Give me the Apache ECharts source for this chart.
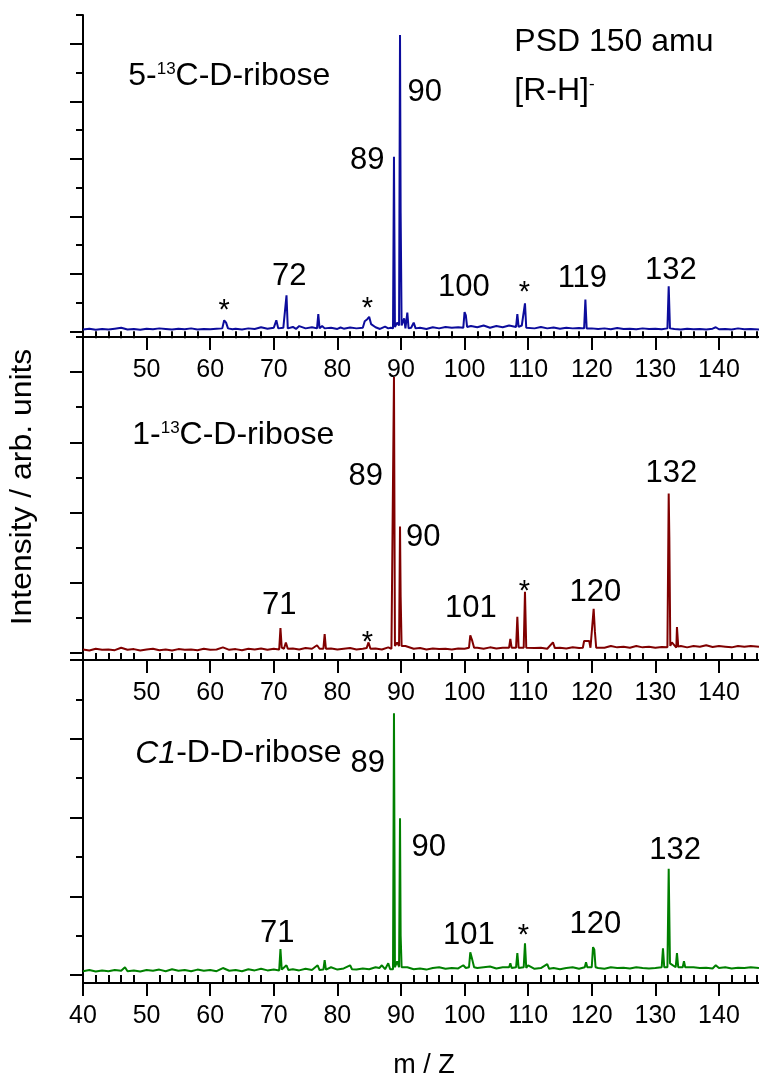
<!DOCTYPE html>
<html><head><meta charset="utf-8">
<script src="https://cdn.jsdelivr.net/npm/echarts@6/dist/echarts.min.js"></script>
<style>html,body{margin:0;padding:0;background:#fff}#c{width:759px;height:1078px}</style>
</head><body><div id="c"></div><script>
// ---------- DATA ----------
const xMajorTicks = [40,50,60,70,80,90,100,110,120,130,140];
const xMinorTicks = [42,44,46,48,52,54,56,58,62,64,66,68,72,74,76,78,82,84,86,88,92,94,96,98,102,104,106,108,112,114,116,118,122,124,126,128,132,134,136,138,142,144,146];
const xLabelsUpper = [50,60,70,80,90,100,110,120,130,140];
const xLabelsBottom = [40,50,60,70,80,90,100,110,120,130,140];

const yMajorTop = [0,2,4,6,8,10];
const yMinorTop = [1,3,5,7,9,11];
const yMajorMid = [0,2,4,6,8];
const yMinorMid = [1,3,5,7,9];
const yMajorBot = [0,2,4,6,8];
const yMinorBot = [1,3,5,7];

// 5-13C-D-ribose spectrum [m/z, intensity]
const spec5C13 = [[40,0.06],[41,0.09],[42,0.05],[43,0.08],[44,0.06],[45,0.09],[46,0.12],[47,0.06],[48,0.08],[49,0.05],[50,0.09],[51,0.07],[52,0.1],[53,0.08],[54,0.06],[55,0.09],[56,0.07],[57,0.1],[58,0.06],[59,0.08],[60,0.07],[61,0.09],[61.9,0.1],[62.2,0.38],[62.5,0.3],[62.8,0.1],[63.5,0.07],[64,0.09],[65,0.06],[66,0.1],[67,0.08],[68,0.14],[69,0.09],[70,0.12],[70.4,0.38],[70.7,0.1],[71.5,0.12],[71.8,0.1],[72,1.25],[72.2,0.1],[73,0.15],[73.5,0.08],[74,0.18],[75,0.1],[76,0.14],[76.8,0.1],[77,0.6],[77.2,0.1],[77.6,0.18],[78,0.1],[79,0.12],[80,0.08],[80.5,0.13],[81,0.09],[82,0.13],[83,0.1],[84,0.12],[84.3,0.35],[84.7,0.42],[85,0.5],[85.3,0.25],[86,0.14],[86.7,0.08],[87.5,0.16],[88,0.1],[88.4,0.12],[88.75,0.1],[88.9,6.07],[89.05,0.15],[89.4,0.3],[89.7,0.2],[89.85,10.3],[89.95,4.1],[90.1,0.2],[90.5,0.45],[90.7,0.1],[91,0.65],[91.2,0.1],[91.6,0.12],[92,0.3],[92.3,0.1],[93,0.12],[94,0.08],[95,0.14],[96,0.1],[97,0.15],[98,0.12],[99,0.14],[99.8,0.12],[100,0.67],[100.2,0.55],[100.4,0.15],[101,0.18],[102,0.14],[103,0.2],[104,0.12],[105,0.18],[106,0.14],[107,0.2],[108.1,0.15],[108.3,0.6],[108.5,0.15],[109,0.2],[109.3,0.15],[109.5,0.97],[109.7,0.12],[110,0.14],[111,0.1],[112,0.15],[113,0.1],[114,0.13],[115,0.09],[116,0.12],[117,0.1],[118,0.11],[118.8,0.1],[119,1.1],[119.2,0.1],[120,0.1],[121,0.08],[122,0.1],[123,0.07],[124,0.11],[125,0.08],[126,0.09],[127,0.07],[128,0.1],[129,0.08],[130,0.09],[131,0.07],[131.9,0.1],[132.1,1.56],[132.3,0.1],[133,0.08],[134,0.06],[135,0.09],[136,0.07],[137,0.08],[138,0.06],[139,0.09],[139.5,0.14],[140,0.07],[141,0.08],[142,0.06],[143,0.1],[144,0.07],[145,0.08],[146.3,0.06]];

// 1-13C-D-ribose spectrum
const spec1C13 = [[40,0.1],[41,0.07],[42,0.12],[43,0.09],[44,0.1],[45,0.08],[46,0.15],[47,0.09],[48,0.11],[49,0.07],[50,0.1],[51,0.12],[52,0.08],[53,0.1],[54,0.07],[55,0.11],[56,0.09],[57,0.1],[58,0.08],[59,0.12],[60,0.09],[61,0.1],[62,0.16],[63,0.09],[64,0.11],[65,0.08],[66,0.12],[67,0.1],[68,0.13],[69,0.09],[70,0.12],[70.85,0.1],[71.05,0.71],[71.25,0.15],[71.6,0.12],[71.9,0.3],[72.2,0.12],[73,0.13],[74,0.1],[75,0.14],[76,0.12],[76.8,0.22],[77.2,0.12],[77.8,0.12],[78,0.54],[78.2,0.12],[79,0.13],[80,0.1],[81,0.12],[82,0.14],[83,0.1],[84,0.12],[84.6,0.14],[84.9,0.3],[85.2,0.12],[86,0.13],[87,0.1],[88,0.16],[88.5,0.12],[88.75,0.1],[88.9,7.86],[89.05,0.2],[89.4,0.3],[89.7,0.2],[89.85,3.6],[89.95,1.6],[90.1,0.2],[90.7,0.2],[91,0.15],[92,0.12],[93,0.14],[94,0.1],[95,0.13],[96,0.11],[97,0.12],[98,0.1],[99,0.13],[100,0.12],[100.7,0.15],[100.9,0.5],[101.2,0.35],[101.5,0.15],[102,0.15],[103,0.12],[104,0.16],[105,0.13],[106,0.15],[107,0.15],[107.2,0.4],[107.4,0.15],[108.1,0.15],[108.3,1.03],[108.5,0.15],[109.3,0.15],[109.5,1.74],[109.7,0.15],[110,0.2],[111,0.14],[112,0.15],[113,0.12],[113.9,0.3],[114.2,0.14],[115,0.15],[116,0.13],[117,0.16],[118,0.14],[118.6,0.15],[118.8,0.34],[119.6,0.34],[119.8,0.15],[120.1,0.2],[120.3,1.26],[120.5,0.6],[120.7,0.15],[121,0.18],[122,0.15],[123,0.2],[124,0.16],[125,0.18],[126,0.15],[127,0.2],[128,0.16],[129,0.18],[130,0.15],[131,0.17],[131.9,0.16],[132.1,4.54],[132.2,3.3],[132.35,0.2],[132.6,0.3],[133.3,0.15],[133.4,0.74],[133.6,0.18],[134,0.2],[135,0.16],[136,0.2],[137,0.18],[138,0.22],[139,0.17],[140,0.2],[141,0.18],[142,0.16],[143,0.2],[144,0.18],[145,0.2],[146.3,0.18]];

// C1-D-D-ribose spectrum
const specC1D = [[40,0.1],[41,0.13],[42,0.09],[43,0.12],[44,0.1],[45,0.13],[46,0.11],[46.6,0.2],[47,0.1],[48,0.12],[49,0.09],[50,0.13],[51,0.11],[52,0.14],[53,0.1],[54,0.15],[55,0.11],[56,0.13],[57,0.1],[58,0.14],[59,0.11],[60,0.13],[61,0.1],[62,0.18],[63,0.11],[64,0.13],[65,0.1],[66,0.15],[67,0.12],[68,0.16],[69,0.12],[70,0.14],[70.85,0.12],[71.05,0.66],[71.25,0.14],[72,0.25],[72.3,0.13],[73,0.15],[74,0.12],[75,0.16],[76,0.13],[76.9,0.25],[77.2,0.13],[77.8,0.14],[78,0.38],[78.2,0.14],[79,0.2],[80,0.14],[81,0.17],[82,0.25],[82.3,0.15],[83,0.14],[84,0.17],[85,0.15],[86,0.2],[86.6,0.18],[87,0.25],[87.5,0.15],[88,0.3],[88.3,0.15],[88.75,0.15],[88.9,6.65],[89.05,0.2],[89.4,0.35],[89.7,0.2],[89.85,3.98],[89.95,1.0],[90.1,0.2],[91,0.2],[92,0.15],[93,0.17],[94,0.14],[95,0.18],[96,0.2],[97,0.16],[98,0.18],[99,0.17],[99.8,0.25],[100.2,0.18],[100.7,0.2],[100.9,0.58],[101.2,0.4],[101.5,0.2],[102,0.18],[103,0.2],[104,0.22],[105,0.17],[106,0.2],[107,0.2],[107.2,0.3],[107.4,0.18],[108.1,0.2],[108.3,0.56],[108.5,0.18],[109.3,0.2],[109.5,0.81],[109.7,0.18],[110,0.25],[111,0.16],[112,0.18],[113,0.28],[113.3,0.16],[114,0.18],[115,0.15],[116,0.18],[117,0.2],[118,0.16],[118.9,0.2],[119.1,0.33],[119.3,0.2],[120,0.2],[120.2,0.71],[120.4,0.65],[120.6,0.2],[121,0.18],[122,0.16],[123,0.2],[124,0.18],[125,0.19],[126,0.17],[127,0.2],[128,0.18],[129,0.17],[130,0.18],[131,0.2],[131.2,0.68],[131.4,0.2],[131.9,0.2],[132.1,2.7],[132.3,0.3],[132.6,0.25],[133.2,0.2],[133.4,0.56],[133.6,0.2],[134.3,0.2],[134.5,0.35],[134.7,0.2],[135,0.17],[136,0.2],[137,0.18],[138,0.19],[139,0.17],[139.5,0.25],[140,0.18],[141,0.2],[142,0.17],[143,0.19],[144,0.18],[145,0.2],[146.3,0.18]];

// Annotations: [m/z anchor, intensity anchor, text]
const titles5 = [[47.19, 8.84, '5-{sup|13}C-D-ribose'], [107.9, 10.03, 'PSD 150 amu'], [107.9, 8.32, '[R-H]{sup|-}']];
const peaks5 = [[93.83, 8.29, '90'], [84.79, 5.92, '89'], [72.52, 1.89, '72'], [62.29, 0.70, '*'], [84.79, 0.77, '*'], [99.97, 1.50, '100'], [109.5, 1.33, '*'], [118.6, 1.82, '119'], [132.53, 2.10, '132']];
const titles1 = [[47.82, 6.18, '1-{sup|13}C-D-ribose']];
const peaks1 = [[84.55, 5.01, '89'], [93.6, 3.28, '90'], [70.94, 1.34, '71'], [84.79, 0.26, '*'], [101.07, 1.25, '101'], [109.47, 1.71, '*'], [120.65, 1.71, '120'], [132.6, 5.10, '132']];
const titlesC1 = [[48.29, 5.61, '{it|C1}-D-D-ribose']];
const peaksC1 = [[84.86, 5.36, '89'], [94.46, 3.23, '90'], [70.63, 1.04, '71'], [100.75, 0.99, '101'], [109.33, 0.97, '*'], [120.65, 1.27, '120'], [133.19, 3.15, '132']];

// ---------- LAYOUT ----------
const FONT = '"Liberation Sans", Arial, sans-serif';
const panels = [
  {spec: spec5C13, titles: titles5, peaks: peaks5, color: '#0c0c9c', top: 15, height: 322, ymax: 11, yMaj: yMajorTop, yMin: yMinorTop, xLab: xLabelsUpper},
  {spec: spec1C13, titles: titles1, peaks: peaks1, color: '#800000', top: 337, height: 323, ymax: 9, yMaj: yMajorMid, yMin: yMinorMid, xLab: xLabelsUpper},
  {spec: specC1D, titles: titlesC1, peaks: peaksC1, color: '#008000', top: 660, height: 323, ymax: 8, yMaj: yMajorBot, yMin: yMinorBot, xLab: xLabelsBottom}
];

const grid = [], xAxis = [], yAxis = [], series = [];
const rich = {
  sup: {fontSize: 17, fontFamily: FONT, color: '#000', verticalAlign: 'top', lineHeight: 10},
  it: {fontSize: 32, fontFamily: FONT, color: '#000', fontStyle: 'italic'}
};
panels.forEach((p, i) => {
  grid.push({left: 83, right: 0, top: p.top, height: p.height, outerBoundsMode: 'none', containLabel: false});
  const lineBlack = {show: true, onZero: false, lineStyle: {color: '#000', width: 2}};
  xAxis.push({type: 'value', gridIndex: i, position: 'bottom', min: 40, max: 146.3,
    axisLine: lineBlack, splitLine: {show: false},
    axisTick: {show: true, inside: false, length: 13, customValues: xMajorTicks, lineStyle: {color: '#000', width: 2}},
    axisLabel: {show: true, customValues: p.xLab, margin: 21, fontSize: 25, fontFamily: FONT, color: '#000'}});
  xAxis.push({type: 'value', gridIndex: i, position: 'bottom', min: 40, max: 146.3,
    axisLine: {show: false}, splitLine: {show: false},
    axisTick: {show: true, inside: false, length: 7, customValues: xMinorTicks, lineStyle: {color: '#000', width: 2}},
    axisLabel: {show: false}});
  yAxis.push({type: 'value', gridIndex: i, position: 'left', min: -0.2, max: p.ymax,
    axisLine: lineBlack, splitLine: {show: false},
    axisTick: {show: true, inside: false, length: 13, customValues: p.yMaj, lineStyle: {color: '#000', width: 2}},
    axisLabel: {show: false}});
  yAxis.push({type: 'value', gridIndex: i, position: 'left', min: -0.2, max: p.ymax,
    axisLine: {show: false}, splitLine: {show: false},
    axisTick: {show: true, inside: false, length: 7, customValues: p.yMin, lineStyle: {color: '#000', width: 2}},
    axisLabel: {show: false}});
  series.push({type: 'line', xAxisIndex: 2 * i, yAxisIndex: 2 * i, data: p.spec, showSymbol: false, symbol: 'none',
    lineStyle: {color: p.color, width: 2}, itemStyle: {color: p.color}, silent: true, z: 2});
  const mkLabels = (arr, align, size) => ({
    type: 'scatter', xAxisIndex: 2 * i, yAxisIndex: 2 * i, silent: true, symbolSize: 1,
    itemStyle: {color: 'rgba(0,0,0,0)', opacity: 1}, z: 5,
    data: arr.map(a => ({value: [a[0], a[1]], name: a[2]})),
    label: {show: true, position: [0, 0], align: align, verticalAlign: 'middle', opacity: 1,
      formatter: (q) => q.name, fontSize: size, fontFamily: FONT, color: '#000', rich: rich}
  });
  series.push(mkLabels(p.titles, 'left', 32));
  series.push(mkLabels(p.peaks.filter(a => a[2] !== '*'), 'center', 31));
  series.push(mkLabels(p.peaks.filter(a => a[2] === '*'), 'center', 29));
});

const chart = echarts.init(document.getElementById('c'), null, {renderer: 'canvas'});
chart.setOption({
  animation: false,
  backgroundColor: '#fff',
  grid, xAxis, yAxis, series,
  graphic: [
    {type: 'text', x: 23, y: 487, rotation: Math.PI / 2, scaleX: 1.1, silent: true,
      style: {text: 'Intensity / arb. units', font: '29px ' + FONT, fill: '#000', align: 'center', verticalAlign: 'middle', textAlign: 'center', textVerticalAlign: 'middle'}},
    {type: 'text', x: 424, y: 1066, silent: true,
      style: {text: 'm / Z', font: '27px ' + FONT, fill: '#000', align: 'center', verticalAlign: 'middle', textAlign: 'center', textVerticalAlign: 'middle'}}
  ]
});
</script></body></html>
